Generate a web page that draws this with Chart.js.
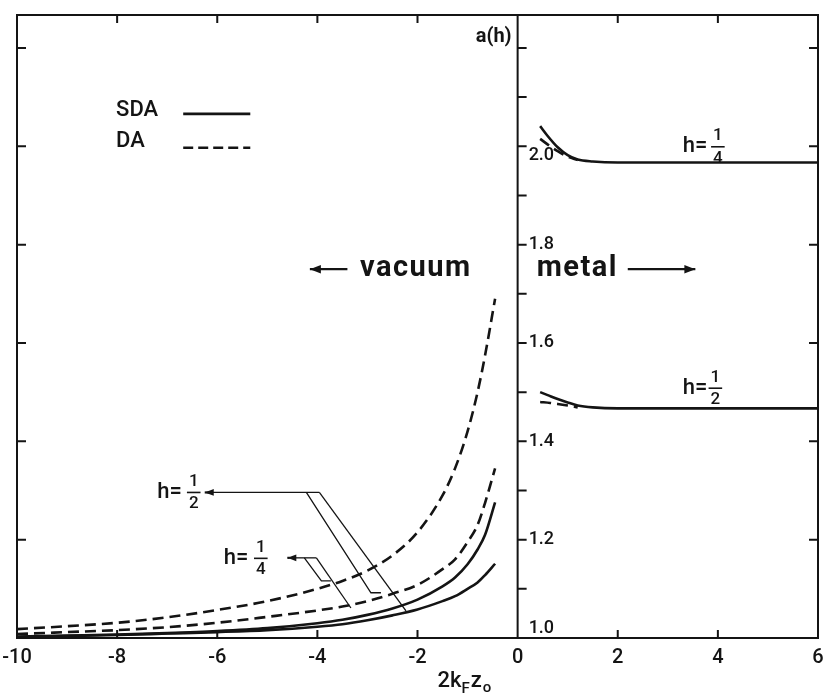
<!DOCTYPE html>
<html>
<head>
<meta charset="utf-8">
<script src="https://cdn.jsdelivr.net/npm/chart.js@4.4.0/dist/chart.umd.min.js"></script>
<style>
  html, body { margin: 0; padding: 0; background: #fff; }
</style>
</head>
<body>
<canvas id="myChart" width="823" height="694"></canvas>
<script>
// vacuum side (2kF z0 < 0), common x grid for the four curves
const vacuumX = [-10, -9, -8, -7, -6, -5, -4, -3.5, -3, -2.5, -2, -1.5, -1.25, -1, -0.8, -0.65, -0.45];
const daUpperVac = [1.018, 1.024, 1.031, 1.042, 1.057, 1.075, 1.100, 1.116, 1.137, 1.168, 1.215, 1.290, 1.345, 1.420, 1.500, 1.575, 1.690];
const daLowerVac = [1.008, 1.012, 1.016, 1.022, 1.031, 1.043, 1.056, 1.064, 1.075, 1.090, 1.108, 1.140, 1.160, 1.195, 1.230, 1.275, 1.345];
const sdaUpperVac = [1.003, 1.005, 1.007, 1.010, 1.014, 1.020, 1.030, 1.037, 1.047, 1.060, 1.078, 1.105, 1.123, 1.150, 1.180, 1.210, 1.276];
const sdaLowerVac = [1.002, 1.004, 1.006, 1.009, 1.012, 1.016, 1.023, 1.028, 1.036, 1.046, 1.058, 1.075, 1.085, 1.100, 1.113, 1.128, 1.151];

// metal side
const metalSdaX = [0.45, 0.6, 0.8, 1.0, 1.2, 1.5, 2, 3, 4, 5, 6];
const sdaQuarterMetal = [2.041, 2.021, 1.998, 1.982, 1.973, 1.969, 1.967, 1.967, 1.967, 1.967, 1.967];
const sdaHalfMetal = [1.500, 1.494, 1.486, 1.479, 1.473, 1.469, 1.467, 1.467, 1.467, 1.467, 1.467];
const metalDaX = [0.45, 0.65, 0.8, 1.0, 1.2];
const daQuarterMetal = [2.015, 2.000, 1.990, 1.979, 1.972];
const daHalfMetal = [1.480, 1.478, 1.476, 1.473, 1.469];

// axes
const xTicks = [-10, -8, -6, -4, -2, 0, 2, 4, 6];
const yLabels = ['1.0', '1.2', '1.4', '1.6', '1.8', '2.0'];
const yMin = 1.0, yMax = 2.267;

const ink = '#141414';
const FONT = 'Roboto, "Liberation Sans", sans-serif';
const DASH = [11, 6];

const pts = (xs, ys) => xs.map((x, i) => ({ x: x, y: ys[i] }));
const curve = (label, xs, ys, dashed) => ({
  label: label,
  data: pts(xs, ys),
  borderColor: ink,
  borderWidth: 2.6,
  borderDash: dashed ? DASH : [],
  pointRadius: 0,
  fill: false,
  cubicInterpolationMode: 'monotone'
});

const paper = {
  id: 'paper',
  afterDraw(chart) {
    const ctx = chart.ctx;
    const ca = chart.chartArea;
    const X = v => chart.scales.x.getPixelForValue(v);
    const Y = v => chart.scales.y.getPixelForValue(v);
    const x0 = X(0);

    ctx.save();
    ctx.strokeStyle = ink;
    ctx.fillStyle = ink;
    ctx.lineCap = 'butt';

    // frame top + right, and the axis at z0 = 0
    ctx.lineWidth = 2;
    ctx.beginPath();
    ctx.moveTo(ca.left, ca.top);
    ctx.lineTo(ca.right, ca.top);
    ctx.lineTo(ca.right, ca.bottom);
    ctx.moveTo(x0, ca.top);
    ctx.lineTo(x0, ca.bottom);
    ctx.stroke();

    // inward tick marks
    ctx.beginPath();
    xTicks.forEach(v => {
      if (v === -10 || v === 0 || v === 6) return;
      ctx.moveTo(X(v), ca.bottom); ctx.lineTo(X(v), ca.bottom - 8);
      ctx.moveTo(X(v), ca.top); ctx.lineTo(X(v), ca.top + 8);
    });
    for (let k = 1; k <= 12; k++) {
      const v = 1 + k / 10;
      ctx.moveTo(x0, Y(v)); ctx.lineTo(x0 + 9, Y(v));
      if (k % 2 === 0) {
        ctx.moveTo(ca.left, Y(v)); ctx.lineTo(ca.left + 9, Y(v));
        ctx.moveTo(ca.right, Y(v)); ctx.lineTo(ca.right - 9, Y(v));
      }
    }
    ctx.stroke();

    const text = (s, x, y, size, align, weight) => {
      ctx.font = (weight || '500') + ' ' + size + 'px ' + FONT;
      ctx.textAlign = align || 'left';
      ctx.textBaseline = 'middle';
      ctx.fillText(s, x, y);
    };
    const frac = (num, den, cx, cy, size) => {
      text(num, cx, cy - size * 0.62, size, 'center');
      text(den, cx, cy + size * 0.68, size, 'center');
      ctx.lineWidth = 1.6;
      ctx.beginPath();
      ctx.moveTo(cx - size * 0.4, cy); ctx.lineTo(cx + size * 0.4, cy);
      ctx.stroke();
    };
    const arrow = (x1, x2, y, tipLeft, len) => {
      ctx.lineWidth = 2.2;
      ctx.beginPath();
      ctx.moveTo(x1, y); ctx.lineTo(x2, y);
      ctx.stroke();
      const tx = tipLeft ? x1 : x2, d = tipLeft ? 1 : -1;
      ctx.beginPath();
      ctx.moveTo(tx, y);
      ctx.lineTo(tx + d * len, y - len * 0.38);
      ctx.lineTo(tx + d * len, y + len * 0.38);
      ctx.closePath();
      ctx.fill();
    };

    // y labels on the middle axis
    yLabels.forEach(s => {
      const v = parseFloat(s);
      let y = Y(v);
      if (s === '1.0') y -= 10;
      if (s === '2.0') y += 9;
      text(s, x0 + 11, y, 18, 'left');
    });
    text('a(h)', x0 - 6, Y(2.222), 20, 'right', 'bold');

    // x title 2 kF z0
    const ty = ca.bottom + 43;
    ctx.font = '500 22px ' + FONT;
    ctx.textAlign = 'left';
    ctx.textBaseline = 'middle';
    let tx = X(-1.6);
    ctx.fillText('2k', tx, ty); tx += ctx.measureText('2k').width;
    ctx.font = '500 15px ' + FONT;
    ctx.fillText('F', tx, ty + 8); tx += ctx.measureText('F').width + 1;
    ctx.font = '500 22px ' + FONT;
    ctx.fillText('z', tx, ty); tx += ctx.measureText('z').width + 1;
    ctx.font = '500 15px ' + FONT;
    ctx.fillText('o', tx, ty + 7);

    // legend
    text('SDA', X(-8.02), Y(2.072), 22, 'left');
    text('DA', X(-8.02), Y(2.010), 22, 'left');
    ctx.lineWidth = 2.6;
    ctx.beginPath();
    ctx.moveTo(X(-6.68), Y(2.066)); ctx.lineTo(X(-5.34), Y(2.066));
    ctx.stroke();
    ctx.setLineDash([10, 5]);
    ctx.beginPath();
    ctx.moveTo(X(-6.68), Y(1.997)); ctx.lineTo(X(-5.34), Y(1.997));
    ctx.stroke();
    ctx.setLineDash([]);

    // vacuum / metal
    const ay = Y(1.75);
    arrow(X(-4.15), X(-3.4), ay, true, 11);
    ctx.letterSpacing = '1.5px';
    text('vacuum', X(-3.15), ay, 29, 'left', 'bold');
    text('metal', X(0.38), ay, 29, 'left', 'bold');
    ctx.letterSpacing = '0px';
    arrow(X(2.2), X(3.55), ay, false, 11);

    // metal curve labels
    text('h=', X(3.3), Y(1.999), 22, 'left');
    frac('1', '4', X(4.0), Y(1.999), 17);
    text('h=', X(3.3), Y(1.508), 22, 'left');
    frac('1', '2', X(3.95), Y(1.508), 17);

    // vacuum curve labels with leaders
    text('h=', X(-7.2), Y(1.296), 22, 'left');
    frac('1', '2', X(-6.47), Y(1.296), 17);
    text('h=', X(-5.87), Y(1.162), 22, 'left');
    frac('1', '4', X(-5.13), Y(1.162), 17);

    ctx.lineWidth = 1.3;
    const poly = list => {
      ctx.beginPath();
      list.forEach((p, i) => i ? ctx.lineTo(X(p[0]), Y(p[1])) : ctx.moveTo(X(p[0]), Y(p[1])));
      ctx.stroke();
    };
    poly([[-6.1, 1.296], [-3.96, 1.296]]);
    poly([[-4.22, 1.296], [-2.93, 1.092], [-2.73, 1.092]]);
    poly([[-3.96, 1.296], [-2.23, 1.055]]);
    poly([[-4.55, 1.163], [-4.02, 1.163]]);
    poly([[-4.26, 1.163], [-3.92, 1.116], [-3.73, 1.116]]);
    poly([[-4.02, 1.163], [-3.33, 1.061]]);
    arrow(X(-6.25), X(-6.1), Y(1.296), true, 9);
    arrow(X(-4.6), X(-4.55), Y(1.163), true, 9);

    ctx.restore();
  }
};

const canvasEl = document.getElementById('myChart');
const myChart = new Chart(canvasEl.getContext('2d'), {
  type: 'line',
  data: {
    datasets: [
      curve('DA upper', vacuumX, daUpperVac, true),
      curve('DA lower', vacuumX, daLowerVac, true),
      curve('SDA upper', vacuumX, sdaUpperVac, false),
      curve('SDA lower', vacuumX, sdaLowerVac, false),
      curve('SDA h=1/4', metalSdaX, sdaQuarterMetal, false),
      curve('SDA h=1/2', metalSdaX, sdaHalfMetal, false),
      curve('DA h=1/4', metalDaX, daQuarterMetal, true),
      curve('DA h=1/2', metalDaX, daHalfMetal, true)
    ]
  },
  options: {
    responsive: false,
    animation: false,
    devicePixelRatio: 1,
    layout: { padding: { left: 17, right: 5, top: 15, bottom: 16 } },
    plugins: {
      legend: { display: false },
      tooltip: { enabled: false }
    },
    scales: {
      x: {
        type: 'linear',
        position: 'bottom',
        min: -10,
        max: 6,
        afterFit: scale => { scale.paddingLeft = 0; scale.paddingRight = 0; },
        grid: { display: false, drawTicks: false },
        border: { display: true, color: ink, width: 2 },
        ticks: {
          stepSize: 2,
          autoSkip: false,
          maxRotation: 0,
          padding: 8,
          color: ink,
          font: { family: FONT, size: 20, weight: '500' }
        }
      },
      y: {
        type: 'linear',
        position: 'left',
        min: yMin,
        max: yMax,
        grid: { display: false, drawTicks: false },
        border: { display: true, color: ink, width: 2 },
        ticks: { display: false }
      }
    }
  },
  plugins: [paper]
});
</script>
</body>
</html>
